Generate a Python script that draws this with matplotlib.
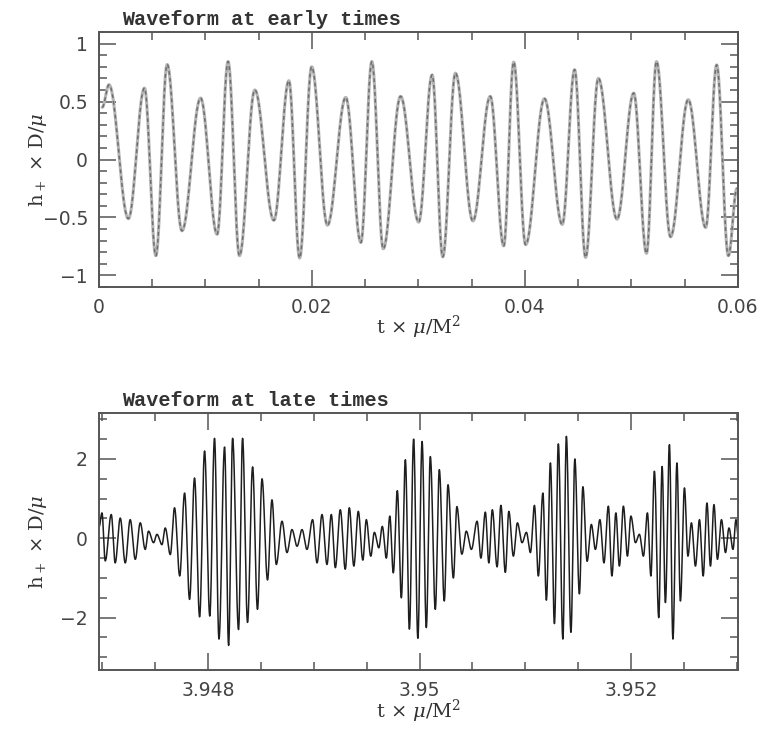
import numpy as np
import matplotlib
matplotlib.use("Agg")
import matplotlib.pyplot as plt
from matplotlib.ticker import MultipleLocator

# ---- early-time waveform: successive turning points (t, h+ D/mu) ----
t_early = [0.0003, 0.00094, 0.00276, 0.00427, 0.00534, 0.0064, 0.00779, 0.00954,
           0.01109, 0.01212, 0.01319, 0.01463, 0.01642, 0.01783, 0.01884, 0.01997,
           0.02145, 0.02317, 0.02459, 0.02562, 0.02669, 0.02832, 0.03002, 0.03128,
           0.03228, 0.03347, 0.03511, 0.03674, 0.03800, 0.03894, 0.04006, 0.04183,
           0.04350, 0.04466, 0.04569, 0.04689, 0.04864, 0.05021, 0.05141, 0.05235,
           0.05367, 0.05533, 0.05697, 0.05800, 0.05910, 0.05990]
h_early = [0.45, 0.645, -0.51, 0.616, -0.83, 0.82, -0.615, 0.53,
           -0.645, 0.845, -0.83, 0.60, -0.525, 0.68, -0.85, 0.80,
           -0.567, 0.536, -0.716, 0.845, -0.77, 0.545, -0.54, 0.73,
           -0.84, 0.745, -0.53, 0.545, -0.745, 0.84, -0.735, 0.525,
           -0.56, 0.775, -0.845, 0.70, -0.515, 0.573, -0.81, 0.845,
           -0.667, 0.516, -0.587, 0.816, -0.83, -0.25]

# ---- late-time waveform: successive turning points ----
t_late = [3.946972, 3.946998, 3.947029, 3.947086, 3.947123, 3.947171, 3.947218,
          3.947265, 3.947313, 3.947360, 3.947407, 3.947438, 3.947486, 3.947518,
          3.947565, 3.947596, 3.947644, 3.947684, 3.947733, 3.947779, 3.947826,
          3.947873, 3.947921, 3.947968, 3.948017, 3.948062, 3.948104, 3.948157,
          3.948195, 3.948233, 3.948289, 3.948327, 3.948374, 3.948422, 3.948468,
          3.948511, 3.948563, 3.948605, 3.948646, 3.948700, 3.948747, 3.948794,
          3.948842, 3.948889, 3.948936, 3.948989, 3.949031, 3.949078, 3.949125,
          3.949166, 3.949204, 3.949251, 3.949298, 3.949336, 3.949379, 3.949421,
          3.949464, 3.949497, 3.949539, 3.949573, 3.949615, 3.949648, 3.949686,
          3.949719, 3.949752, 3.949790, 3.949828, 3.949866, 3.949904, 3.949944,
          3.949984, 3.950024, 3.950064, 3.950102, 3.950149, 3.950187, 3.950234,
          3.950269, 3.950320, 3.950353, 3.950400, 3.950442, 3.950490, 3.950544,
          3.950580, 3.950622, 3.950655, 3.950688, 3.950733, 3.950769, 3.950811,
          3.950844, 3.950887, 3.950925, 3.950969, 3.951010, 3.951048, 3.951086,
          3.951123, 3.951166, 3.951199, 3.951237, 3.951275, 3.951312, 3.951355,
          3.951388, 3.951431, 3.951468, 3.951511, 3.951544, 3.951584, 3.951624,
          3.951662, 3.951705, 3.951743, 3.951785, 3.951818, 3.951856, 3.951889,
          3.951927, 3.951965, 3.951998, 3.952041, 3.952078, 3.952116, 3.952154,
          3.952187, 3.952220, 3.952261, 3.952293, 3.952324, 3.952362, 3.952395,
          3.952433, 3.952466, 3.952504, 3.952537, 3.952570, 3.952608, 3.952646,
          3.952681, 3.952717, 3.952750, 3.952783, 3.952816, 3.952854, 3.952892,
          3.952925, 3.952963, 3.952991, 3.953015]
h_late = [0.30, 0.64, -0.57, 0.60, -0.62, 0.51, -0.62,
          0.47, -0.53, 0.39, -0.28, 0.18, -0.11, 0.10,
          -0.16, 0.26, -0.41, 0.77, -0.95, 1.14, -1.54,
          1.52, -1.98, 2.20, -1.96, 2.52, -2.54, 2.30,
          -2.70, 2.52, -2.30, 2.52, -2.12, 1.80, -1.79,
          1.50, -1.05, 0.97, -0.66, 0.43, -0.36, 0.22,
          -0.20, 0.22, -0.28, 0.47, -0.62, 0.60, -0.66,
          0.60, -0.74, 0.72, -0.78, 0.77, -0.70, 0.68,
          -0.55, 0.47, -0.45, 0.15, -0.24, 0.30, -0.50,
          0.56, -0.87, 1.20, -1.50, 1.98, -2.29, 2.50,
          -2.52, 2.44, -2.25, 2.06, -1.79, 1.73, -1.58,
          1.35, -1.00, 0.80, -0.40, 0.18, -0.28, 0.43,
          -0.50, 0.66, -0.62, 0.72, -0.72, 0.83, -0.86,
          0.68, -0.45, 0.39, -0.11, 0.15, -0.36, 0.83,
          -0.95, 1.14, -1.56, 1.90, -2.15, 2.38, -2.54,
          2.57, -2.37, 2.00, -1.40, 1.30, -0.58, 0.35,
          -0.28, 0.47, -0.62, 0.81, -0.95, 0.64, -0.70,
          0.81, -0.45, 0.56, -0.11, 0.10, -0.45, 0.64,
          -0.95, 1.69, -2.00, 1.81, -1.62, 2.36, -2.54,
          1.90, -1.58, 1.27, -0.45, 0.39, -0.70, 0.47,
          -0.95, 0.89, -0.70, 0.85, -0.53, 0.47, -0.36,
          0.26, -0.28, 0.47, 0.0]

early_xticks = [0, 0.02, 0.04, 0.06]
early_xlabels = ["0", "0.02", "0.04", "0.06"]
early_yticks = [-1, -0.5, 0, 0.5, 1]
early_ylabels = ["\u22121", "\u22120.5", "0", "0.5", "1"]
late_xticks = [3.948, 3.950, 3.952]
late_xlabels = ["3.948", "3.95", "3.952"]
late_yticks = [-2, 0, 2]
late_ylabels = ["\u22122", "0", "2"]


def through_turning_points(t, h, n=40):
    """Smooth curve joining successive maxima/minima with half-cosine arcs."""
    t = np.asarray(t, float)
    h = np.asarray(h, float)
    s = np.linspace(0.0, 1.0, n, endpoint=False)
    ts, hs = [], []
    for i in range(len(t) - 1):
        ts.append(t[i] + (t[i + 1] - t[i]) * s)
        hs.append(0.5 * (h[i] + h[i + 1]) + 0.5 * (h[i] - h[i + 1]) * np.cos(np.pi * s))
    ts.append(t[-1:])
    hs.append(h[-1:])
    return np.concatenate(ts), np.concatenate(hs)


plt.rcParams["mathtext.fontset"] = "dejavuserif"
fig = plt.figure(figsize=(7.68, 7.30), dpi=100)
ax1 = fig.add_axes([0.1289, 0.6068, 0.8320, 0.3494])
ax2 = fig.add_axes([0.1289, 0.0822, 0.8320, 0.3521])

frame_col = "#555555"
tick_font = dict(family="DejaVu Sans", size=13.5, color="#444444")
label_font = dict(family="DejaVu Serif", size=14, color="#333333")
title_font = dict(family="Liberation Mono", size=14.5, weight="bold", color="#333333")

# early times
te, he = through_turning_points(t_early, h_early)
ax1.plot(te, he, color="#b4b4b4", lw=2.2, solid_capstyle="round")
ax1.plot(te, he, color="#6e6e6e", lw=1.1, dashes=(2.5, 2.0))
ax1.set_xlim(0, 0.06)
ax1.set_ylim(-1.1, 1.1)
ax1.set_xticks(early_xticks)
ax1.set_xticklabels(early_xlabels, **tick_font)
ax1.set_yticks(early_yticks)
ax1.set_yticklabels(early_ylabels, **tick_font)
ax1.xaxis.set_minor_locator(MultipleLocator(0.005))
ax1.yaxis.set_minor_locator(MultipleLocator(0.1))
ax1.set_xlabel(r"t $\times$ $\mu$/M$^2$", **label_font)
ax1.set_ylabel(r"h$_+$ $\times$ D/$\mu$", **label_font)
ax1.text(0.036, 1.012, "Waveform at early times", transform=ax1.transAxes,
         ha="left", va="bottom", **title_font)

# late times
tl, hl = through_turning_points(t_late, h_late, n=24)
ax2.plot(tl, hl, color="#1e1e1e", lw=1.1)
ax2.set_xlim(3.94697, 3.95301)
ax2.set_ylim(-3.32, 3.16)
ax2.set_xticks(late_xticks)
ax2.set_xticklabels(late_xlabels, **tick_font)
ax2.set_yticks(late_yticks)
ax2.set_yticklabels(late_ylabels, **tick_font)
ax2.xaxis.set_minor_locator(MultipleLocator(0.0005))
ax2.yaxis.set_minor_locator(MultipleLocator(0.5))
ax2.set_xlabel(r"t $\times$ $\mu$/M$^2$", **label_font)
ax2.set_ylabel(r"h$_+$ $\times$ D/$\mu$", **label_font)
ax2.text(0.036, 1.012, "Waveform at late times", transform=ax2.transAxes,
         ha="left", va="bottom", **title_font)

for ax in (ax1, ax2):
    for sp in ax.spines.values():
        sp.set_color(frame_col)
        sp.set_linewidth(1.4)
    ax.tick_params(which="both", direction="in", top=True, right=True,
                   color=frame_col, width=1.1)
    ax.tick_params(which="major", length=12, pad=8)
    ax.tick_params(which="minor", length=6)
    ax.xaxis.label.set_va("center")
    ax.yaxis.label.set_va("center")
    ax.yaxis.set_label_coords(-0.0955, 0.5)

ax1.xaxis.set_label_coords(0.5, -0.16)
ax2.xaxis.set_label_coords(0.5, -0.163)

fig.savefig("out.png", dpi=100)
